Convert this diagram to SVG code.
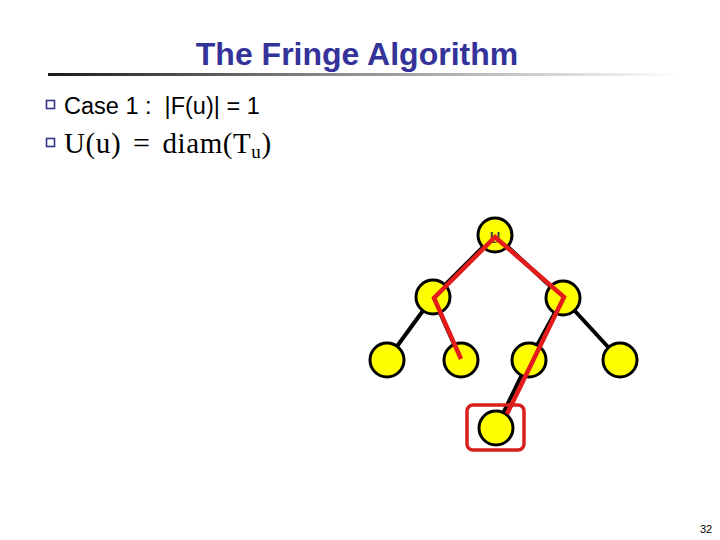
<svg xmlns="http://www.w3.org/2000/svg" width="720" height="540" viewBox="0 0 720 540">
<style>
.node{fill:#ffff00;stroke:#000;stroke-width:3}
.edge{stroke:#000;stroke-width:4;fill:none}
.path{stroke:#e31b1b;stroke-width:4.5;fill:none;stroke-linejoin:miter}
.bullet{fill:#fff;stroke:#33338a;stroke-width:1.6}
</style>
<defs>
<linearGradient id="rule" x1="0" x2="1" y1="0" y2="0">
<stop offset="0" stop-color="#1a1a1a"/>
<stop offset="0.45" stop-color="#8a8a8a"/>
<stop offset="1" stop-color="#ffffff"/>
</linearGradient>
</defs>
<rect width="720" height="540" fill="#fff"/>
<text x="357" y="65" text-anchor="middle" font-family="Liberation Sans, Arial, sans-serif" font-weight="bold" font-size="32" fill="#333399">The Fringe Algorithm</text>
<rect x="48" y="73" width="632" height="3" fill="url(#rule)"/>
<rect class="bullet" x="46.5" y="100.5" width="8" height="8"/>
<text x="64" y="114" font-family="Liberation Sans, Arial, sans-serif" font-size="23.5" fill="#000" xml:space="preserve">Case 1 :  |F(u)| = 1</text>
<rect class="bullet" x="46.5" y="138.5" width="8" height="8"/>
<text x="64" y="153" font-family="Liberation Serif, Times New Roman, serif" font-size="29" letter-spacing="0.6" word-spacing="4" fill="#000" xml:space="preserve">U(u) <tspan font-size="30">=</tspan> diam(T<tspan font-size="19" dy="5">u</tspan><tspan dy="-5">)</tspan></text>
<g id="connectors">
<line class="edge" x1="495" y1="235" x2="433" y2="297"/>
<line class="edge" x1="495" y1="235" x2="563" y2="298"/>
<line class="edge" x1="433" y1="297" x2="387" y2="360"/>
<line class="edge" x1="433" y1="297" x2="461" y2="360"/>
<line class="edge" x1="563" y1="298" x2="529" y2="360"/>
<line class="edge" x1="563" y1="298" x2="620" y2="360"/>
<line class="edge" x1="529" y1="360" x2="496" y2="428"/>
</g>
<g id="n-u"><circle class="node" cx="495" cy="235" r="17"/><text x="495" y="243" text-anchor="middle" font-family="Liberation Sans, Arial, sans-serif" font-size="20" fill="#333">u</text></g>
<g id="n-l"><circle class="node" cx="433" cy="297" r="17"/></g>
<g id="n-r"><circle class="node" cx="563" cy="298" r="17"/></g>
<g id="n-ll"><circle class="node" cx="387" cy="360" r="17"/></g>
<g id="n-lr"><circle class="node" cx="461" cy="360" r="17"/></g>
<g id="n-rl"><circle class="node" cx="529" cy="360" r="17"/></g>
<g id="n-rr"><circle class="node" cx="620" cy="360" r="17"/></g>
<g id="n-b"><circle class="node" cx="496" cy="428" r="17"/></g>
<g id="highlight">
<polyline class="path" points="461,359 434,298 495,237 564,297 507,414"/>
<rect x="467" y="405" width="57" height="45" rx="6" fill="none" stroke="#d91e1e" stroke-width="3.5"/>
</g>
<text x="706" y="533" text-anchor="middle" font-family="Liberation Sans, Arial, sans-serif" font-size="11" fill="#000">32</text>
</svg>
